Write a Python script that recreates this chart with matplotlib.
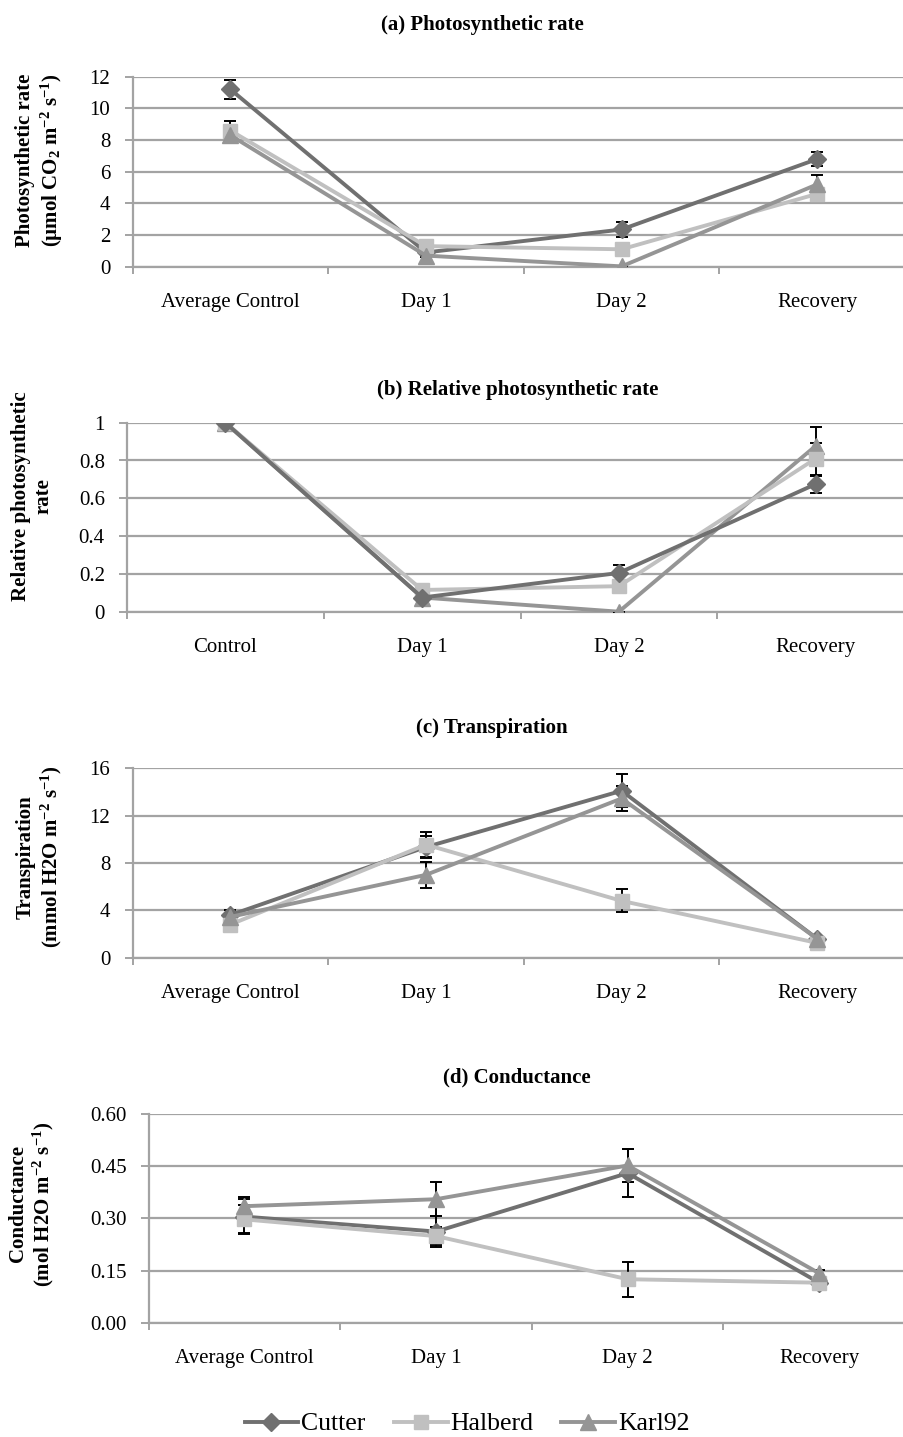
import numpy as np
import matplotlib.pyplot as plt
from matplotlib.ticker import FixedLocator

plt.rcParams['font.family'] = ['Liberation Serif', 'DejaVu Serif']
plt.rcParams['mathtext.fontset'] = 'custom'
plt.rcParams['mathtext.rm'] = 'Liberation Serif:bold'
plt.rcParams['mathtext.it'] = 'Liberation Serif:bold'
plt.rcParams['mathtext.bf'] = 'Liberation Serif:bold'

# ---- data ----
cats_avg = ["Average Control", "Day 1", "Day 2", "Recovery"]
cats_rel = ["Control", "Day 1", "Day 2", "Recovery"]
series = ["Cutter", "Halberd", "Karl92"]

# (a) photosynthetic rate
photo_cutter = [11.2, 0.9, 2.35, 6.8]
photo_halberd = [8.6, 1.3, 1.1, 4.6]
photo_karl = [8.3, 0.7, 0.02, 5.2]
photo_err_cutter = [0.6, 0.15, 0.48, 0.42]
photo_err_halberd = [0.6, 0.2, 0.2, 0.3]
photo_err_karl = [0.5, 0.1, 0.0, 0.6]

# (b) relative photosynthetic rate
rel_cutter = [1.0, 0.075, 0.205, 0.675]
rel_halberd = [1.0, 0.115, 0.135, 0.81]
rel_karl = [1.0, 0.075, 0.0, 0.877]
rel_err_cutter = [0.0, 0.01, 0.04, 0.045]
rel_err_halberd = [0.0, 0.02, 0.02, 0.085]
rel_err_karl = [0.0, 0.01, 0.0, 0.1]

# (c) transpiration
trans_cutter = [3.6, 9.35, 14.1, 1.6]
trans_halberd = [2.8, 9.55, 4.8, 1.25]
trans_karl = [3.45, 7.0, 13.45, 1.6]
trans_err_cutter = [0.4, 0.95, 1.4, 0.2]
trans_err_halberd = [0.4, 1.05, 0.97, 0.15]
trans_err_karl = [0.3, 1.1, 1.05, 0.2]

# (d) conductance
cond_cutter = [0.305, 0.262, 0.43, 0.115]
cond_halberd = [0.297, 0.249, 0.125, 0.115]
cond_karl = [0.335, 0.355, 0.452, 0.142]
cond_err_cutter = [0.05, 0.045, 0.07, 0.01]
cond_err_halberd = [0.04, 0.025, 0.05, 0.01]
cond_err_karl = [0.025, 0.049, 0.047, 0.01]

colors = {"Cutter": "#707070", "Halberd": "#c0c0c0", "Karl92": "#959595"}
markers = {"Cutter": "D", "Halberd": "s", "Karl92": "^"}
msize = {"Cutter": 9, "Halberd": 10, "Karl92": 11}

W, H = 904, 1437
fig = plt.figure(figsize=(W / 100, H / 100), dpi=100)


def px_axes(left, top, right, bottom):
    return fig.add_axes([left / W, 1 - bottom / H, (right - left) / W, (bottom - top) / H])


panels = [
    dict(box=(132.6, 76.7, 915, 266.7), cats=cats_avg, ymax=12, ystep=2, fmt="{:.0f}",
         vals=[photo_cutter, photo_halberd, photo_karl],
         errs=[photo_err_cutter, photo_err_halberd, photo_err_karl],
         title="(a) Photosynthetic rate", tpos=(482, 25), reverse=False,
         ylabel="Photosynthetic rate\n(µmol CO$_2$ m$^{-2}$ s$^{-1}$)", lpos=(40, 160)),
    dict(box=(127, 422.7, 914, 611.7), cats=cats_rel, ymax=1.0, ystep=0.2, fmt="{:g}",
         vals=[rel_cutter, rel_halberd, rel_karl],
         errs=[rel_err_cutter, rel_err_halberd, rel_err_karl],
         title="(b) Relative photosynthetic rate", tpos=(518, 390), reverse=True,
         ylabel="Relative photosynthetic\nrate", lpos=(32, 496)),
    dict(box=(132.6, 768.3, 915, 957.7), cats=cats_avg, ymax=16, ystep=4, fmt="{:.0f}",
         vals=[trans_cutter, trans_halberd, trans_karl],
         errs=[trans_err_cutter, trans_err_halberd, trans_err_karl],
         title="(c) Transpiration", tpos=(492, 728), reverse=False,
         ylabel="Transpiration\n(mmol H2O m$^{-2}$ s$^{-1}$)", lpos=(40, 857)),
    dict(box=(148.7, 1114, 915, 1322.7), cats=cats_avg, ymax=0.6, ystep=0.15, fmt="{:.2f}",
         vals=[cond_cutter, cond_halberd, cond_karl],
         errs=[cond_err_cutter, cond_err_halberd, cond_err_karl],
         title="(d) Conductance", tpos=(517, 1077), reverse=False,
         ylabel="Conductance\n(mol H2O m$^{-2}$ s$^{-1}$)", lpos=(32, 1204)),
]

grid_col = "#a3a3a3"
handles = []
for p in panels:
    ax = px_axes(*p["box"])
    x = np.arange(len(p["cats"]))
    for k, (name, v, e) in enumerate(zip(series, p["vals"], p["errs"])):
        z = 4 + (2 - k if p["reverse"] else k) * 0.1
        ax.errorbar(x, v, yerr=e, fmt="none", ecolor="black", elinewidth=1.4,
                    capsize=4, capthick=1.4, zorder=3)
        ln, = ax.plot(x, v, color=colors[name], lw=2.8, marker=markers[name],
                      ms=msize[name], mec=colors[name], mfc=colors[name], zorder=z,
                      label=name)
        if len(handles) < 3:
            handles.append(ln)
    ax.set_xlim(-0.5, 3.5)
    ax.set_ylim(0, p["ymax"])
    yt = np.arange(0, p["ymax"] + p["ystep"] / 2, p["ystep"])
    ax.set_yticks(yt)
    ax.set_yticklabels([p["fmt"].format(t) for t in yt])
    ax.set_xticks(x)
    ax.set_xticklabels(p["cats"])
    ax.xaxis.set_minor_locator(FixedLocator(np.arange(-0.5, 3.6, 1)))
    ax.tick_params(axis="x", which="major", length=0, pad=19, labelsize=15)
    ax.tick_params(axis="x", which="minor", length=5, width=1.4, color=grid_col)
    ax.tick_params(axis="y", length=6, width=1.4, color=grid_col, pad=10, labelsize=15)
    ax.grid(axis="y", color=grid_col, lw=1.6, zorder=0)
    ax.set_axisbelow(True)
    for s in ["top", "right"]:
        ax.spines[s].set_visible(False)
    for s in ["left", "bottom"]:
        ax.spines[s].set_color(grid_col)
        ax.spines[s].set_linewidth(1.6)
    fig.text(p["tpos"][0] / W, 1 - p["tpos"][1] / H, p["title"], ha="center",
             va="center", fontsize=15, fontweight="bold")
    fig.text(p["lpos"][0] / W, 1 - p["lpos"][1] / H, p["ylabel"], ha="center",
             va="center", rotation=90, fontsize=15, fontweight="bold",
             multialignment="center", linespacing=1.15)

fig.legend(handles=handles, labels=series, loc="center",
           bbox_to_anchor=(467 / W, 1 - 1424 / H), ncol=3, frameon=False,
           fontsize=18.5, handlelength=2.1, handletextpad=0.1, columnspacing=1.1)

fig.savefig("out.png", dpi=100)
